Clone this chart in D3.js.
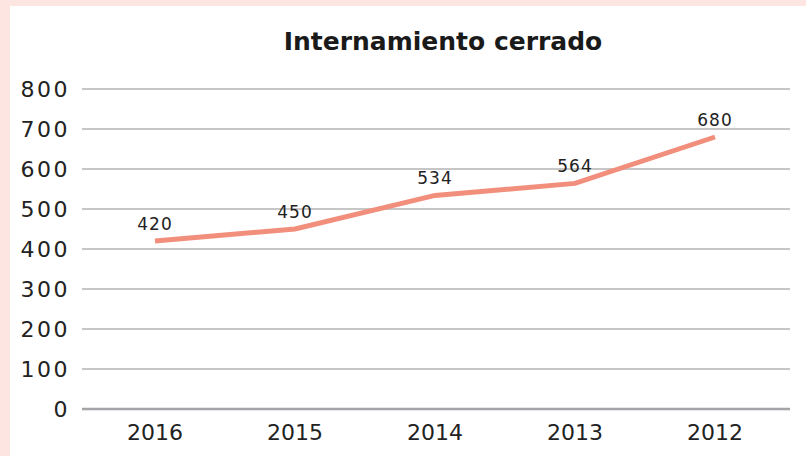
<!DOCTYPE html>
<html>
<head>
<meta charset="utf-8">
<script src="https://cdn.jsdelivr.net/npm/d3@7"></script>
<style>
  body { margin: 0; background: #fde5e1; }
  svg { display: block; font-family: "DejaVu Sans", sans-serif; }
</style>
</head>
<body>
<svg id="chart" width="806" height="456"></svg>
<script>
var years = ["2016", "2015", "2014", "2013", "2012"];
var values = [420, 450, 534, 564, 680];
var yTicks = [0, 100, 200, 300, 400, 500, 600, 700, 800];

var svg = d3.select("#chart");

// white panel inside the pink frame
svg.append("rect")
  .attr("x", 10).attr("y", 6)
  .attr("width", 796).attr("height", 450)
  .attr("fill", "#fff");

var x = d3.scaleBand().domain(years).range([85, 785]),
  y = d3.scaleLinear().domain([0, 800]).range([409, 89]);

svg.append("text")
  .attr("x", 443).attr("y", 50)
  .attr("text-anchor", "middle")
  .attr("font-size", 25).attr("font-weight", "bold")
  .attr("fill", "#1a1a1a")
  .text("Internamiento cerrado");

// grid
svg.append("g").selectAll("line")
  .data(yTicks)
  .join("line")
    .attr("x1", 82).attr("x2", 790)
    .attr("y1", function(d) { return y(d); })
    .attr("y2", function(d) { return y(d); })
    .attr("stroke", function(d) { return d == 0 ? "#a3a3a8" : "#b3b3b3"; })
    .attr("stroke-width", function(d) { return d == 0 ? 2.5 : 1.5; });

var yAxis = d3.axisLeft(y).tickValues(yTicks).tickSize(0).tickPadding(0);
svg.append("g")
  .attr("transform", "translate(70,0)")
  .call(yAxis)
  .call(function(g) {
    g.select(".domain").remove();
    g.selectAll(".tick text")
      .attr("font-size", 22).attr("fill", "#222")
      .attr("font-family", "DejaVu Sans, sans-serif")
      .attr("letter-spacing", 2.5)
      .attr("dy", "0.36em");
  });

var xAxis = d3.axisBottom(x).tickSize(0).tickPadding(0);
svg.append("g")
  .attr("transform", "translate(0,432)")
  .call(xAxis)
  .call(function(g) {
    g.select(".domain").remove();
    g.selectAll(".tick text")
      .attr("font-size", 22).attr("fill", "#222")
      .attr("font-family", "DejaVu Sans, sans-serif")
      .attr("dy", "0.36em");
  });

var pts = years.map(function(d, i) { return {year: d, v: values[i]}; });

svg.append("path")
  .datum(pts)
  .attr("fill", "none")
  .attr("stroke", "#f28f7c").attr("stroke-width", 5)
  .attr("d", d3.line()
    .x(function(d) { return x(d.year) + x.bandwidth() / 2; })
    .y(function(d) { return y(d.v); }));

svg.append("g").selectAll("text")
  .data(pts)
  .join("text")
    .attr("x", function(d) { return x(d.year) + x.bandwidth() / 2; })
    .attr("y", function(d) { return y(d.v) - 11; })
    .attr("text-anchor", "middle")
    .attr("font-size", 17).attr("fill", "#222")
    .attr("letter-spacing", 1)
    .text(function(d) { return d.v; });
</script>
</body>
</html>
